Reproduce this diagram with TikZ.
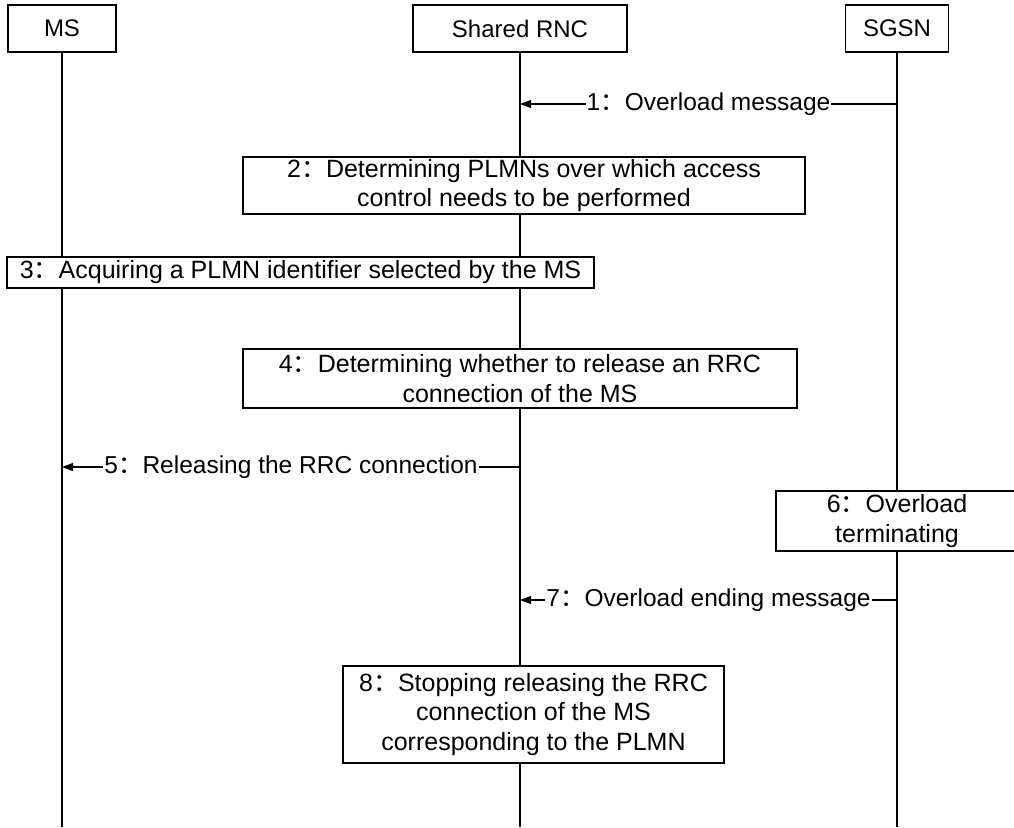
\documentclass[tikz,border=0pt]{standalone}
\usepackage{fontspec}
\setmainfont{Liberation Sans}
\newfontfamily\cjk{Noto Sans CJK SC}
\usetikzlibrary{arrows.meta}
\newcommand\fwcolon{{\cjk ：}}
\begin{document}
\begin{tikzpicture}[x=1pt,y=-1pt,
  every node/.style={font=\fontsize{25}{29.5}\selectfont},
  head/.style={draw,line width=1.1pt,fill=white,minimum height=47pt,inner sep=0pt,font=\fontsize{24}{29}\selectfont},
  act/.style={draw,line width=1.1pt,fill=white,align=center,inner sep=0pt},
  life/.style={line width=1.1pt},
  msg/.style={line width=1.1pt,-{Triangle[length=11pt,width=8pt]}},
  lbl/.style={fill=white,inner xsep=1pt,inner ysep=0pt,font=\fontsize{24.5}{29}\selectfont}]
\useasboundingbox (0,0) rectangle (1014,827);
% headers
\node[head,minimum width=108pt] (ms) at (62,28.5) {MS};
\node[head,minimum width=214pt] (rnc) at (520,28.5) {Shared RNC};
\node[head,minimum width=103pt] (sgsn) at (897,28.5) {SGSN};
% lifeline ends
\coordinate (msend) at (62,827);
\coordinate (rncend) at (520,827);
\coordinate (sgsnend) at (897,827);
\draw[life] (ms.south) -- (msend);
\draw[life] (rnc.south) -- (rncend);
\draw[life] (sgsn.south) -- (sgsnend);
% message points
\coordinate (s1) at (897,104); \coordinate (r1) at (520,104);
\coordinate (r5) at (520,467); \coordinate (m5) at (62,467);
\coordinate (s7) at (897,600); \coordinate (r7) at (520,600);
% action boxes
\node[act,minimum width=562pt,minimum height=57pt] (b2) at (524,185.5)
  {2\fwcolon Determining PLMNs over which access\\control needs to be performed};
\node[act,minimum width=587pt,minimum height=31pt] (b3) at (300.5,272.5)
  {3\fwcolon Acquiring a PLMN identifier selected by the MS};
\node[act,minimum width=554pt,minimum height=59pt] (b4) at (520,378.5)
  {4\fwcolon Determining whether to release an RRC\\connection of the MS};
\node[act,minimum width=242pt,minimum height=60pt] (b6) at (897,521)
  {6\fwcolon Overload\\terminating};
\node[act,minimum width=381pt,minimum height=97pt] (b8) at (533.5,714.5)
  {8\fwcolon Stopping releasing the RRC\\connection of the MS\\corresponding to the PLMN};
% messages
\draw[msg] (s1) -- node[lbl] {1\fwcolon Overload message} (r1);
\draw[msg] (r5) -- node[lbl] {5\fwcolon Releasing the RRC connection} (m5);
\draw[msg] (s7) -- node[lbl] {7\fwcolon Overload ending message} (r7);
\end{tikzpicture}
\end{document}
